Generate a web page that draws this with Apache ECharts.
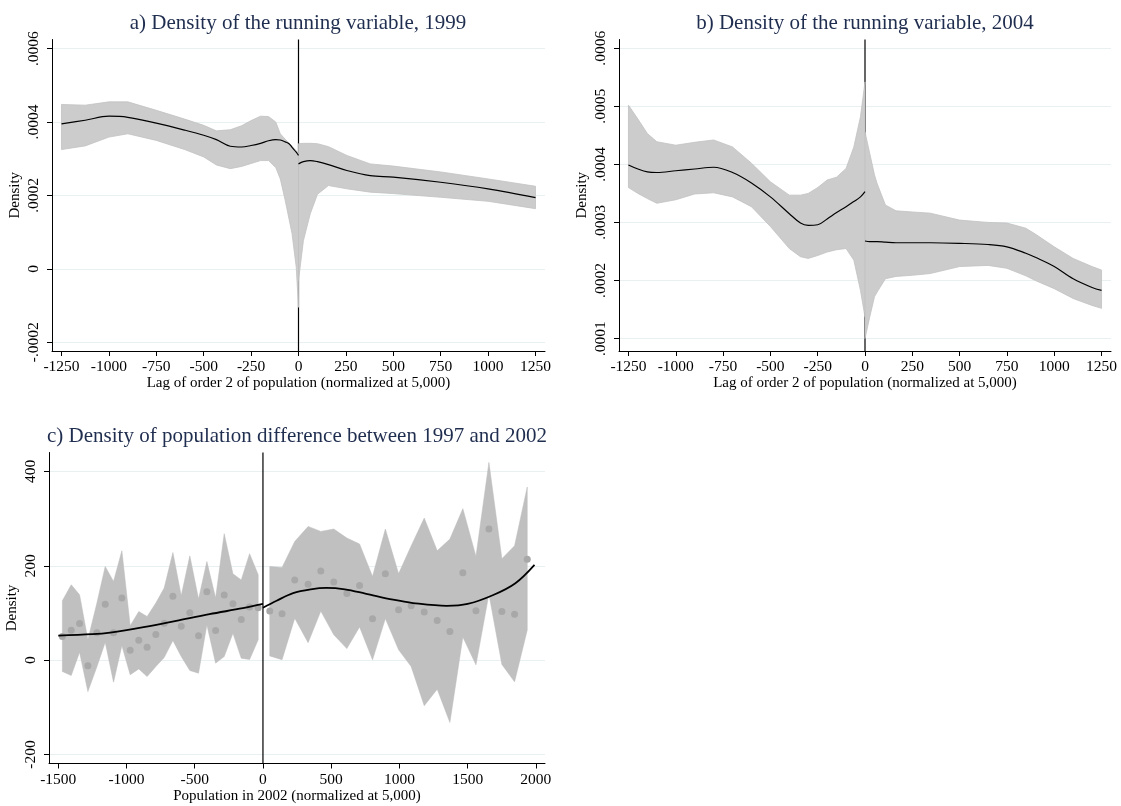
<!DOCTYPE html>
<html>
<head>
<meta charset="utf-8">
<script src="https://cdn.jsdelivr.net/npm/echarts@6/dist/echarts.min.js"></script>
<style>
html,body{margin:0;padding:0;background:#fff;}
#chart{width:1121px;height:806px;}
</style>
</head>
<body>
<div id="chart"></div>
<script>
// ---------- Panel a) 1999 ----------
const aLeftX    = [-1250, -1125, -1000, -900, -750, -600, -500, -433, -360, -300, -250, -200, -158, -120, -96, -70, -50, -34, -12, 0];
const aLeftFit  = [0.000395, 0.000405, 0.000416, 0.000413, 0.000397, 0.000378, 0.000364, 0.000352, 0.000334, 0.000332, 0.000336, 0.000342, 0.000349, 0.000352, 0.000351, 0.000346, 0.000341, 0.000331, 0.000318, 0.000309];
const aLeftUp   = [0.000448, 0.000446, 0.000455, 0.000455, 0.000432, 0.000408, 0.000391, 0.000376, 0.000379, 0.000390, 0.000404, 0.000416, 0.000415, 0.000400, 0.000368, 0.000353, 0.000343, 0.000334, 0.000322, 0.000314];
const aLeftLo   = [0.000325, 0.000335, 0.000359, 0.000368, 0.000350, 0.000325, 0.000305, 0.000283, 0.000273, 0.000279, 0.000287, 0.000295, 0.000295, 0.000276, 0.000245, 0.000186, 0.000136, 0.0000955, 0.0000044, -0.000105];
const aRightX   = [0, 26, 62, 100, 158, 255, 378, 500, 750, 1000, 1250];
const aRightFit = [0.000286, 0.000292, 0.000295, 0.000292, 0.000284, 0.000268, 0.000254, 0.000250, 0.000236, 0.000218, 0.000194];
const aRightUp  = [0.000341, 0.000342, 0.000342, 0.000341, 0.000333, 0.000309, 0.000286, 0.000280, 0.000264, 0.000245, 0.000225];
const aRightLo  = [-0.000032, 0.000077, 0.000150, 0.000203, 0.000227, 0.000218, 0.000209, 0.000205, 0.000195, 0.000184, 0.000164];
const aXTicks   = [-1250, -1000, -750, -500, -250, 0, 250, 500, 750, 1000, 1250];
const aYTicks   = [-0.0002, 0, 0.0002, 0.0004, 0.0006];

// ---------- Panel b) 2004 ----------
const bLeftX    = [-1250, -1200, -1150, -1100, -1000, -900, -800, -700, -600, -500, -400, -341, -300, -250, -200, -150, -100, -59, -24, 0];
const bLeftFit  = [0.000399, 0.000392, 0.000387, 0.000386, 0.000389, 0.000392, 0.000395, 0.000386, 0.000368, 0.000344, 0.000315, 0.000299, 0.000295, 0.000296, 0.000306, 0.000317, 0.000327, 0.000336, 0.000344, 0.000353];
const bLeftUp   = [0.000502, 0.000478, 0.000453, 0.000439, 0.000433, 0.000438, 0.000442, 0.000430, 0.000402, 0.000370, 0.000347, 0.000347, 0.000350, 0.000360, 0.000373, 0.000378, 0.000393, 0.000430, 0.000482, 0.000542];
const bLeftLo   = [0.000360, 0.000350, 0.000341, 0.000333, 0.000339, 0.000349, 0.000351, 0.000344, 0.000327, 0.000293, 0.000255, 0.000241, 0.000238, 0.000243, 0.000249, 0.000253, 0.000255, 0.000235, 0.000183, 0.000137];
const bRightX   = [0, 25, 50, 64, 108, 164, 250, 345, 500, 650, 750, 850, 900, 1000, 1100, 1200, 1250];
const bRightFit = [0.000268, 0.000267, 0.000267, 0.000267, 0.000266, 0.000265, 0.000265, 0.000265, 0.000264, 0.000262, 0.000258, 0.000247, 0.000240, 0.000224, 0.000203, 0.000188, 0.000183];
const bRightUp  = [0.000456, 0.000419, 0.000382, 0.000367, 0.000330, 0.000320, 0.000318, 0.000316, 0.000304, 0.000300, 0.000299, 0.000290, 0.000280, 0.000258, 0.000238, 0.000224, 0.000218];
const bRightLo  = [0.000100, 0.000137, 0.000172, 0.000180, 0.000203, 0.000207, 0.000209, 0.000212, 0.000224, 0.000226, 0.000221, 0.000208, 0.000200, 0.000186, 0.000169, 0.000157, 0.000152];
const bXTicks   = [-1250, -1000, -750, -500, -250, 0, 250, 500, 750, 1000, 1250];
const bYTicks   = [0.0001, 0.0002, 0.0003, 0.0004, 0.0005, 0.0006];

// ---------- Panel c) 1997-2002 ----------
const cLeftX    = [-1470, -1405, -1344, -1283, -1217, -1156, -1095, -1034, -973, -910, -849, -785, -724, -660, -599, -536, -472, -411, -347, -284, -220, -159, -98, -35];
const cLeftDots = [50, 63.6, 77.7, -12, 57.9, 118.7, 57.9, 131.5, 21, 42.4, 27.5, 54.3, 78.4, 135.6, 72, 100.3, 51.5, 144.8, 62.8, 137.8, 119.4, 86.2, 112.4, 111];
const cLeftUp   = [125.8, 159.7, 138.5, 43, 121, 198.5, 166.7, 231.8, 72.7, 103, 92.5, 121, 152.7, 228, 136.4, 221, 129.4, 209, 131.5, 268, 183, 170, 225.5, 181];
const cLeftLo   = [-24, -32.6, 17, -66.6, -14, 38, -46.7, 31, -31, -18.5, -34.8, -13.6, 5.5, 41.6, 7.7, -22, -27.6, 75, -6.4, 7.6, 57, 4, 1.5, 43];
const cRightX   = [50, 140, 233, 331, 424, 519, 615, 708, 803, 897, 994, 1086, 1182, 1277, 1370, 1465, 1561, 1656, 1751, 1844, 1937];
const cRightDots= [103.9, 98.2, 169.7, 161, 188.7, 165.4, 141.3, 158.3, 87.6, 183, 106.7, 115.2, 101.8, 84, 60.7, 185, 104.6, 278, 103, 97.5, 214];
const cRightUp  = [198.5, 196.5, 251.6, 283.4, 272.8, 277.8, 258.7, 246, 177.3, 277.8, 183, 242, 301, 231.8, 256.6, 321, 219.7, 419, 214.8, 242.4, 367];
const cRightLo  = [9, 1, 89, 37, 104, 53.6, 24.5, 70.5, 0.6, 88, 22, -13.5, -96.5, -61.5, -132, 49, -10, 140, -9, -46, 64];
const cFitLX    = [-1500, -1250, -1120, -875, -636, -392, -147, 0];
const cFitLY    = [52, 55, 58.5, 70, 83.4, 97.5, 110, 119];
const cFitRX    = [0, 100, 221, 350, 466, 600, 750, 954, 1100, 1346, 1500, 1688, 1850, 1990];
const cFitRY    = [111, 126, 142, 150, 153, 150, 141, 128, 121, 115, 119, 138, 163, 202];
const cXTicks   = [-1500, -1000, -500, 0, 500, 1000, 1500, 2000];
const cYTicks   = [-200, 0, 200, 400];

const titles = ['a) Density of the running variable, 1999', 'b) Density of the running variable, 2004', 'c) Density of population difference between 1997 and 2002'];

// ---------- helpers ----------
const FONT = '"Liberation Serif", "Times New Roman", "DejaVu Serif", serif';
const zip = (xs, ys) => xs.map((x, i) => [x, ys[i]]);
const plainFmt = v => String(Math.round(v));
const stataFmt = v => {
  if (Math.abs(v) < 1e-12) return '0';
  let s = String(+v.toFixed(6));
  return s.replace('0.', '.');
};

function makeX(gi, min, max, ticks, name) {
  return {
    type: 'value', gridIndex: gi, min: min, max: max,
    name: name, nameLocation: 'middle', nameGap: 25, nameMoveOverlap: false,
    nameTextStyle: { fontFamily: FONT, fontSize: 15, color: '#000' },
    axisLine: { show: true, onZero: false, lineStyle: { color: '#000', width: 1 } },
    axisTick: { show: true, length: 5, inside: false, customValues: ticks, lineStyle: { color: '#000' } },
    axisLabel: { show: true, customValues: ticks, margin: 8, fontFamily: FONT, fontSize: 15.5, color: '#000', formatter: plainFmt, hideOverlap: false },
    splitLine: { show: false }
  };
}
function makeY(gi, min, max, ticks, fmt) {
  return {
    type: 'value', gridIndex: gi, min: min, max: max,
    name: 'Density', nameLocation: 'middle', nameGap: 29, nameRotate: 90, nameMoveOverlap: false,
    nameTextStyle: { fontFamily: FONT, fontSize: 15, color: '#000' },
    axisLine: { show: true, onZero: false, lineStyle: { color: '#000', width: 1 } },
    axisTick: { show: true, length: 5, inside: false, customValues: ticks, lineStyle: { color: '#000' } },
    axisLabel: { show: true, customValues: ticks, rotate: 90, margin: 10, fontFamily: FONT, fontSize: 15.5, color: '#000', formatter: fmt, hideOverlap: false },
    splitLine: { show: true, lineStyle: { color: '#e8f0f2', width: 1 } }
  };
}
function band(gi, xs, lo, hi, fill, stroke, lw) {
  return {
    type: 'custom', xAxisIndex: gi, yAxisIndex: gi, data: [[xs[0], lo[0]]], silent: true, clip: true, z: 3,
    renderItem: function (params, api) {
      const pts = [];
      for (let i = 0; i < xs.length; i++) pts.push(api.coord([xs[i], hi[i]]));
      for (let i = xs.length - 1; i >= 0; i--) pts.push(api.coord([xs[i], lo[i]]));
      return { type: 'polygon', shape: { points: pts }, style: { fill: fill, stroke: stroke, lineWidth: lw } };
    }
  };
}
function fit(gi, xs, ys, width) {
  return {
    type: 'line', xAxisIndex: gi, yAxisIndex: gi, data: zip(xs, ys), smooth: 0.35, z: 5,
    showSymbol: false, symbol: 'none', silent: true,
    lineStyle: { color: '#000', width: width }
  };
}
function vline(gi, ymin, ymax) {
  return {
    type: 'line', xAxisIndex: gi, yAxisIndex: gi, data: [[0, ymin], [0, ymax]], z: 1,
    showSymbol: false, symbol: 'none', silent: true,
    lineStyle: { color: '#000', width: 1.2 }
  };
}
function dots(gi, xs, ys) {
  return {
    type: 'scatter', xAxisIndex: gi, yAxisIndex: gi, data: zip(xs, ys), symbolSize: 7, silent: true, z: 4,
    itemStyle: { color: '#a8a8a8', opacity: 1 }
  };
}

const A = { ymin: -0.000224, ymax: 0.000625 };
const B = { ymin: 0.0000786, ymax: 0.000615 };
const C = { ymin: -219, ymax: 440 };

const chart = echarts.init(document.getElementById('chart'), null, { renderer: 'canvas' });
const titleStyle = { fontFamily: FONT, fontSize: 21, fill: '#1f2d4f', align: 'center', verticalAlign: 'middle' };
chart.setOption({
  backgroundColor: '#fff',
  animation: false,
  graphic: [
    { type: 'text', x: 298, y: 23, style: Object.assign({ text: titles[0] }, titleStyle) },
    { type: 'text', x: 865, y: 23, style: Object.assign({ text: titles[1] }, titleStyle) },
    { type: 'text', x: 297, y: 436, style: Object.assign({ text: titles[2] }, titleStyle) }
  ],
  grid: [
    { left: 52, top: 39.5, width: 493, height: 311.5 },
    { left: 619, top: 39.5, width: 492, height: 311.5 },
    { left: 49, top: 452.5, width: 496, height: 311 }
  ],
  xAxis: [
    makeX(0, -1300, 1300, aXTicks, 'Lag of order 2 of population (normalized at 5,000)'),
    makeX(1, -1300, 1300, bXTicks, 'Lag of order 2 of population (normalized at 5,000)'),
    makeX(2, -1568, 2067, cXTicks, 'Population in 2002 (normalized at 5,000)')
  ],
  yAxis: [
    makeY(0, A.ymin, A.ymax, aYTicks, stataFmt),
    makeY(1, B.ymin, B.ymax, bYTicks, stataFmt),
    makeY(2, C.ymin, C.ymax, cYTicks, plainFmt)
  ],
  series: [
    vline(0, A.ymin, A.ymax),
    band(0, aLeftX, aLeftLo, aLeftUp, '#cccccc', '#c2c2c2', 0.8),
    band(0, aRightX, aRightLo, aRightUp, '#cccccc', '#c2c2c2', 0.8),
    fit(0, aLeftX, aLeftFit, 1.2),
    fit(0, aRightX, aRightFit, 1.2),

    vline(1, B.ymin, B.ymax),
    band(1, bLeftX, bLeftLo, bLeftUp, '#cccccc', '#c2c2c2', 0.8),
    band(1, bRightX, bRightLo, bRightUp, '#cccccc', '#c2c2c2', 0.8),
    fit(1, bLeftX, bLeftFit, 1.2),
    fit(1, bRightX, bRightFit, 1.2),

    vline(2, C.ymin, C.ymax),
    band(2, cLeftX, cLeftLo, cLeftUp, '#c0c0c0', '#bababa', 0.5),
    band(2, cRightX, cRightLo, cRightUp, '#c0c0c0', '#bababa', 0.5),
    dots(2, cLeftX, cLeftDots),
    dots(2, cRightX, cRightDots),
    fit(2, cFitLX, cFitLY, 1.8),
    fit(2, cFitRX, cFitRY, 1.8)
  ]
});
</script>
</body>
</html>
